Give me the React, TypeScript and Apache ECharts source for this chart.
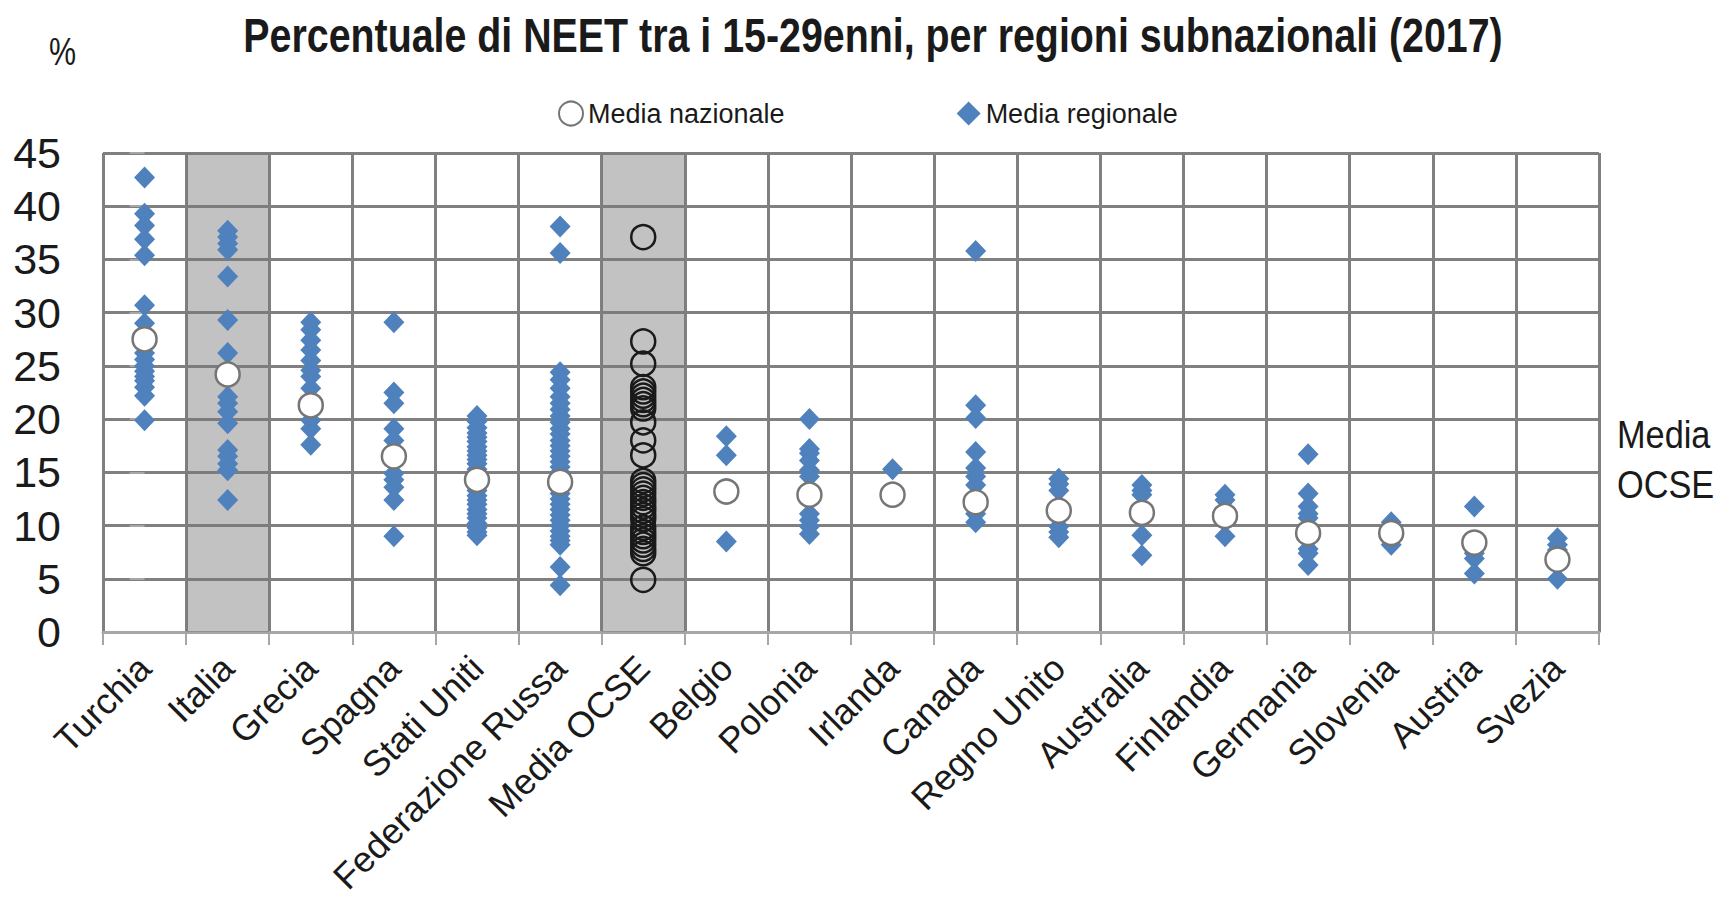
import React, { useEffect, useRef } from "react";
import * as echarts from "echarts";

const FONT = "'Liberation Sans', Arial, Helvetica, sans-serif";

const categories = [
  "Turchia", "Italia", "Grecia", "Spagna", "Stati Uniti", "Federazione Russa",
  "Media OCSE", "Belgio", "Polonia", "Irlanda", "Canada", "Regno Unito",
  "Australia", "Finlandia", "Germania", "Slovenia", "Austria", "Svezia",
];

const yTicks = [0, 5, 10, 15, 20, 25, 30, 35, 40, 45];
const mediaOCSE = 13.2;

// Media regionale (per paese)
const turchia = [42.7, 39.3, 38.2, 36.9, 35.4, 30.7, 29.0, 26.2, 25.6, 25.0, 24.5, 24.0, 23.6, 23.0, 22.2, 19.9];
const italia = [37.7, 37.1, 36.5, 35.9, 33.4, 29.3, 26.2, 22.1, 21.5, 20.7, 19.6, 17.1, 16.5, 15.8, 15.2, 12.4];
const grecia = [29.1, 28.4, 27.4, 26.5, 25.5, 24.6, 24.0, 22.9, 19.9, 19.1, 17.6];
const spagna = [29.1, 22.5, 21.5, 19.1, 18.0, 17.2, 14.9, 14.3, 13.6, 12.4, 9.0];
const statiUniti = [20.3, 19.8, 19.2, 18.7, 18.3, 17.9, 17.4, 17.0, 16.6, 16.2, 15.8, 15.3, 14.9, 14.3, 13.7, 13.3, 12.8, 12.4, 12.0, 11.5, 11.1, 10.7, 10.2, 9.8, 9.4, 9.1];
const federazioneRussa = [38.1, 35.6, 24.4, 23.7, 22.9, 22.1, 21.5, 20.9, 20.3, 19.7, 19.1, 18.6, 18.0, 17.5, 17.0, 16.5, 16.0, 15.5, 15.0, 14.5, 14.0, 13.5, 13.0, 12.5, 12.0, 11.5, 11.0, 10.5, 10.0, 9.5, 9.0, 8.6, 8.2, 6.1, 4.4];
const belgio = [18.4, 16.6, 8.5];
const polonia = [20.0, 17.2, 16.8, 16.1, 15.2, 14.6, 11.1, 10.5, 9.9, 9.2];
const irlanda = [15.3];
const canada = [35.8, 21.3, 20.1, 16.9, 15.4, 14.6, 13.8, 11.1, 10.3];
const regnoUnito = [14.4, 13.9, 13.3, 9.9, 9.4, 8.9];
const australia = [13.8, 13.3, 12.9, 9.1, 7.2];
const finlandia = [12.9, 12.4, 9.0];
const germania = [16.7, 13.0, 11.8, 11.1, 10.7, 7.8, 7.4, 6.3];
const slovenia = [10.3, 8.2];
const austria = [11.8, 7.4, 6.9, 5.5];
const svezia = [8.8, 8.2, 7.7, 5.0];

const regionali: (number[] | null)[] = [
  turchia, italia, grecia, spagna, statiUniti, federazioneRussa, null,
  belgio, polonia, irlanda, canada, regnoUnito, australia, finlandia,
  germania, slovenia, austria, svezia,
];

// Media nazionale (null per la colonna Media OCSE)
const nazionale = [27.5, 24.2, 21.3, 16.5, 14.3, 14.1, null, 13.2, 12.9, 12.9, 12.2, 11.4, 11.2, 10.9, 9.3, 9.3, 8.4, 6.8];

// Medie nazionali dei paesi OCSE (colonna Media OCSE)
const paesiOCSE = [37.1, 27.3, 25.2, 23.0, 22.6, 22.2, 21.8, 21.4, 21.0, 19.7, 18.0, 16.6, 14.2, 13.8, 13.4, 13.0, 12.6, 12.2, 11.8, 11.4, 11.0, 10.6, 9.8, 9.4, 9.0, 8.6, 8.2, 7.8, 7.4, 4.9];

const shadedCategories = ["Italia", "Media OCSE"];

export default function App() {
  const ref = useRef<HTMLDivElement>(null);
  useEffect(() => {
    if (!ref.current) return;
    const chart = echarts.init(ref.current, null, { renderer: "svg" });

    const regData: [string, number][] = [];
    regionali.forEach((arr, i) => {
      if (arr) arr.forEach((v) => regData.push([categories[i], v]));
    });
    const natData: [string, number][] = [];
    nazionale.forEach((v, i) => {
      if (v !== null) natData.push([categories[i], v]);
    });
    const ocseIdx = categories.indexOf("Media OCSE");
    const ocseData: [string, number][] = paesiOCSE.map((v) => [categories[ocseIdx], v]);

    const shadeAreas = shadedCategories.map((c) => {
      const i = categories.indexOf(c);
      return [{ xAxis: i - 0.5 }, { xAxis: i + 0.5 }];
    });

    chart.setOption({
      animation: false,
      textStyle: { fontFamily: FONT },
      grid: {
        left: 103,
        right: 121,
        top: 153,
        bottom: 266,
        containLabel: false,
        outerBoundsMode: "none",
      },
      legend: {
        data: ["Media nazionale", "Media regionale"],
        left: 553,
        top: 95,
        itemGap: 172,
        itemWidth: 24,
        itemHeight: 24,
        textStyle: { fontFamily: FONT, fontSize: 27, color: "#1a1a1a" },
      },
      graphic: [
        {
          type: "text",
          x: 873,
          y: 11,
          scaleX: 0.82,
          style: {
            text: "Percentuale di NEET tra i 15-29enni, per regioni subnazionali (2017)",
            fontFamily: FONT,
            fontSize: 48,
            fontWeight: "bold",
            fill: "#1a1a1a",
            textAlign: "center",
          },
        },
        {
          type: "text",
          x: 49,
          y: 33,
          scaleX: 0.8,
          style: { text: "%", fontFamily: FONT, fontSize: 38, fill: "#1a1a1a" },
        },
        {
          type: "text",
          x: 1617,
          y: 410,
          scaleX: 0.88,
          style: {
            text: "Media\nOCSE",
            fontFamily: FONT,
            fontSize: 39,
            lineHeight: 50,
            fill: "#1a1a1a",
          },
        },
      ],
      xAxis: [
        {
          type: "category",
          data: categories,
          boundaryGap: true,
          axisLine: { show: true, lineStyle: { color: "#a6a6a6", width: 3 } },
          axisTick: { show: true, length: 13, lineStyle: { color: "#a6a6a6", width: 2 } },
          splitLine: { show: true, lineStyle: { color: "#808080", width: 3 } },
          axisLabel: {
            rotate: 45,
            margin: 30,
            interval: 0,
            fontFamily: FONT,
            fontSize: 36,
            color: "#1a1a1a",
          },
        },
        {
          type: "value",
          min: -0.5,
          max: categories.length - 0.5,
          show: false,
        },
      ],
      yAxis: {
        type: "value",
        min: yTicks[0],
        max: yTicks[yTicks.length - 1],
        interval: 5,
        axisLine: { show: false },
        axisTick: { show: true, length: 15, lineStyle: { color: "#a6a6a6", width: 2 } },
        splitLine: { show: true, lineStyle: { color: "#808080", width: 3 } },
        axisLabel: {
          margin: 42,
          showMinLabel: true,
          showMaxLabel: true,
          fontFamily: FONT,
          fontSize: 43,
          color: "#1a1a1a",
        },
      },
      series: [
        {
          name: "shade",
          type: "scatter",
          xAxisIndex: 1,
          data: [],
          silent: true,
          z: 1,
          markArea: {
            silent: true,
            itemStyle: { color: "rgba(120,120,120,0.45)" },
            data: shadeAreas,
          },
          markLine: {
            silent: true,
            symbol: ["none", "none"],
            label: { show: false },
            lineStyle: { color: "#1a1a1a", width: 3, type: "solid" },
            data: [[{ coord: [-0.5, mediaOCSE] }, { coord: [categories.length - 0.4, mediaOCSE] }]],
          },
        },
        {
          name: "Media regionale",
          type: "scatter",
          symbol: "diamond",
          symbolSize: [21, 22],
          itemStyle: { color: "#4f81bd", opacity: 1 },
          data: regData,
          z: 3,
        },
        {
          name: "Media nazionale",
          type: "scatter",
          symbol: "circle",
          symbolSize: 24,
          itemStyle: { color: "#ffffff", borderColor: "#767676", borderWidth: 2.5, opacity: 1 },
          data: natData,
          z: 4,
        },
        {
          name: "Paesi OCSE",
          type: "scatter",
          symbol: "circle",
          symbolSize: 24,
          itemStyle: { color: "rgba(0,0,0,0)", borderColor: "#1a1a1a", borderWidth: 2.5, opacity: 1 },
          data: ocseData,
          z: 4,
        },
      ],
    });
    return () => chart.dispose();
  }, []);
  return (
    <div
      ref={ref}
      style={{ position: "fixed", left: 0, top: 0, width: 1720, height: 898, background: "#fff" }}
    />
  );
}
